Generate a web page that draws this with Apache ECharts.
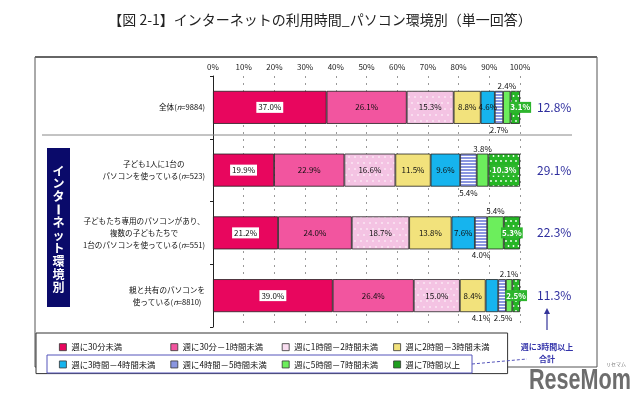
<!DOCTYPE html>
<html><head><meta charset="utf-8">
<script src="https://cdn.jsdelivr.net/npm/echarts@6/dist/echarts.min.js"></script>
<style>html,body{margin:0;padding:0;background:#fff}#c{width:640px;height:400px}</style>
</head><body><div id="c"></div>
<script>
const categories = ['全体(n=9884)', '子ども1人に1台の\nパソコンを使っている(n=523)', '子どもたち専用のパソコンがあり、\n複数の子どもたちで\n1台のパソコンを使っている(n=551)', '親と共有のパソコンを\n使っている(n=8810)'];
const seriesNames = ['週に30分未満','週に30分－1時間未満','週に1時間－2時間未満','週に2時間－3時間未満','週に3時間－4時間未満','週に4時間－5時間未満','週に5時間－7時間未満','週に7時間以上'];
const s1 = [37.0, 19.9, 21.2, 39.0];
const s2 = [26.1, 22.9, 24.0, 26.4];
const s3 = [15.3, 16.6, 18.7, 15.0];
const s4 = [8.8, 11.5, 13.8, 8.4];
const s5 = [4.6, 9.6, 7.6, 4.1];
const s6 = [2.7, 5.4, 4.0, 2.5];
const s7 = [2.4, 3.8, 5.4, 2.1];
const s8 = [3.1, 10.3, 5.3, 2.5];
const totals = ['12.8%', '29.1%', '22.3%', '11.3%'];
const xTicks = [0,10,20,30,40,50,60,70,80,90,100];

function dotPattern(bg, dot, step, r){
  const c=document.createElement('canvas'); c.width=step; c.height=step*2;
  const x=c.getContext('2d'); x.fillStyle=bg; x.fillRect(0,0,step,step*2);
  x.fillStyle=dot;
  x.beginPath(); x.arc(1,1,r,0,Math.PI*2); x.fill();
  x.beginPath(); x.arc(1+step/2,1+step,r,0,Math.PI*2); x.fill();
  return {image:c, repeat:'repeat'};
}
function stripePattern(bg, line){
  const c=document.createElement('canvas'); c.width=4; c.height=3;
  const x=c.getContext('2d'); x.fillStyle=bg; x.fillRect(0,0,4,3);
  x.fillStyle=line; x.fillRect(0,0,4,1);
  return {image:c, repeat:'repeat'};
}
const colors = ['#E8065E','#F2559F', dotPattern('#F4C3E3','#ffffff',6,0.8), '#F2E27C', '#16B4EE', stripePattern('#8A96E0','#ffffff'), '#6CEE5C', dotPattern('#25B525','#ffffff',5,0.9)];
const legendColors = ['#E8065E','#F2559F','#F9DDF0','#F2E27C','#16B4EE','#8A96E0','#6CEE5C','#1E9E1E'];

const baseLabel = {show:true, fontSize:8, color:'#111', fontFamily:'Noto Sans CJK JP', formatter: p => p.value.toFixed(1)+'%'};
const values = [s1,s2,s3,s4,s5,s6,s7,s8];
const labelCfg = [
  Object.assign({}, baseLabel, {position:'inside', backgroundColor:'#fff', padding:[2,2,1,2]}),
  Object.assign({}, baseLabel, {position:'inside'}),
  Object.assign({}, baseLabel, {position:'inside'}),
  Object.assign({}, baseLabel, {position:'inside'}),
  Object.assign({}, baseLabel, {position:'inside'}),
  Object.assign({}, baseLabel, {position:'bottom', distance:2}),
  Object.assign({}, baseLabel, {position:'top', distance:1}),
  Object.assign({}, baseLabel, {position:'inside', color:'#fff', fontWeight:'bold', backgroundColor:'#2DB52D', padding:[2,1,1,1]})
];
const itemLabelOverrides = {
  '4-3': {position:'bottom', distance:2, offset:[-11,0]},
  '5-3': {offset:[1,0]},
  '7-0': {offset:[5,0]}
};

const series = values.map((arr, si) => ({
  name: seriesNames[si], type:'bar', stack:'t', barWidth:33,
  data: arr.map((v, ci) => {
    const o = itemLabelOverrides[si+'-'+ci];
    return o ? {value:v, label:o} : v;
  }),
  itemStyle:{color:colors[si], borderColor:'#222', borderWidth:0.8},
  label: labelCfg[si],
  emphasis:{disabled:true},
  animation:false
}));
const legendData = seriesNames.map((n,i)=>({name:n, itemStyle:{color:legendColors[i], borderColor:'#333', borderWidth:0.8}}));

function catFormatter(v){
  return v.split('\n').map(line => {
    const m = line.match(/^(.*)\(n=(\d+)\)$/);
    if (m) return '{a|'+m[1]+'(}{i|n}{a|='+m[2]+')}';
    return '{a|'+line+'}';
  }).join('\n');
}

const chart = echarts.init(document.getElementById('c'), null, {renderer:'canvas'});
chart.setOption({
  animation:false,
  backgroundColor:'#fff',
  textStyle:{fontFamily:'Noto Sans CJK JP'},
  grid:{left:213, width:307, top:76, height:251},
  xAxis:{type:'value', position:'top', min:0, max:100, interval:10,
    axisLine:{show:false}, axisTick:{show:false},
    axisLabel:{fontSize:8, color:'#222', margin:5, formatter: v => v+'%'},
    splitLine:{show:true, lineStyle:{color:'#999', type:[2,5], width:1}}},
  yAxis:[
    {type:'category', data:categories, inverse:true,
      axisLine:{show:true, lineStyle:{color:'#222', width:1}},
      axisTick:{show:true, length:3, inside:false, lineStyle:{color:'#222'}},
      axisLabel:{margin:8, formatter:catFormatter, align:'right', lineHeight:12,
        rich:{a:{fontSize:7.6, color:'#111', align:'center', lineHeight:12}, i:{fontSize:7.6, color:'#111', fontStyle:'italic', align:'center', lineHeight:12}}}},
    {type:'category', data:categories, inverse:true, position:'right',
      axisLine:{show:false}, axisTick:{show:false},
      axisLabel:{margin:17, align:'left', fontSize:12, color:'#2E2E9E', formatter:(v, i)=>totals[i]}}
  ],
  legend:{data:legendData, left:36, top:333, width:440, orient:'horizontal',
    padding:[10,12,5,23], itemGap:9, itemWidth:7, itemHeight:7, icon:'rect',
    borderColor:'#333', borderWidth:1, backgroundColor:'#fff',
    selectedMode:false,
    textStyle:{fontSize:8.3, color:'#111', width:90, lineHeight:8, padding:[0,0,0,0]}},
  series: series,
  graphic:[
    {type:'text', left:'center', top:13, style:{text:'【図 2-1】インターネットの利用時間_パソコン環境別（単一回答）', font:'14px "Noto Sans CJK JP"', fill:'#222'}, z:10},
    {type:'rect', shape:{x:35, y:57, width:562, height:310}, style:{fill:null, stroke:'#555', lineWidth:1}, z:-1},
    {type:'line', shape:{x1:35, y1:57, x2:597, y2:57}, style:{stroke:'#666', lineWidth:2}, z:10},
    {type:'line', shape:{x1:42, y1:135, x2:572, y2:135}, style:{stroke:'#888', lineWidth:1}, z:10},
    {type:'rect', shape:{x:47, y:148, width:23, height:159}, style:{fill:'#0A0A6A'}, z:10},
    {type:'text', x:58.5, y:229, style:{text:'イ\nン\nタ\n \nネ\nッ\nト\n環\n境\n別', font:'bold 12px "Noto Sans CJK JP"', fill:'#fff', align:'center', verticalAlign:'middle', lineHeight:12.9}, z:11},
    {type:'rect', shape:{x:57.5, y:204.5, width:2.2, height:10}, style:{fill:'#fff'}, z:11},
    {type:'rect', shape:{x:47, y:355, width:425, height:18}, style:{fill:null, stroke:'#5555BB', lineWidth:1}, z:200},
    {type:'line', shape:{x1:472, y1:364, x2:527, y2:359}, style:{stroke:'#5555BB', lineWidth:1, lineDash:[3,2]}, z:200},
    {type:'line', shape:{x1:547, y1:330, x2:547, y2:312}, style:{stroke:'#333399', lineWidth:1.2}, z:200},
    {type:'polygon', shape:{points:[[544,314],[547,308],[550,314]]}, style:{fill:'#333399'}, z:200},
    {type:'text', x:547, y:347, style:{text:'週に3時間以上', font:'bold 8px "Noto Sans CJK JP"', fill:'#3333AA', align:'center', verticalAlign:'middle'}, z:200},
    {type:'text', x:547, y:359, style:{text:'合計', font:'bold 8px "Noto Sans CJK JP"', fill:'#3333AA', align:'center', verticalAlign:'middle'}, z:200},
    {type:'text', x:631, y:381, originX:0, originY:0, scaleX:0.72, style:{text:'ReseMom', font:'bold 30px "Liberation Sans"', fill:'#6d6d6d', align:'right', verticalAlign:'middle'}, z:200},
    {type:'text', x:626, y:364, style:{text:'リセマム', font:'5px "Noto Sans CJK JP"', fill:'#777', align:'right', verticalAlign:'middle'}, z:200}
  ]
});
</script></body></html>
